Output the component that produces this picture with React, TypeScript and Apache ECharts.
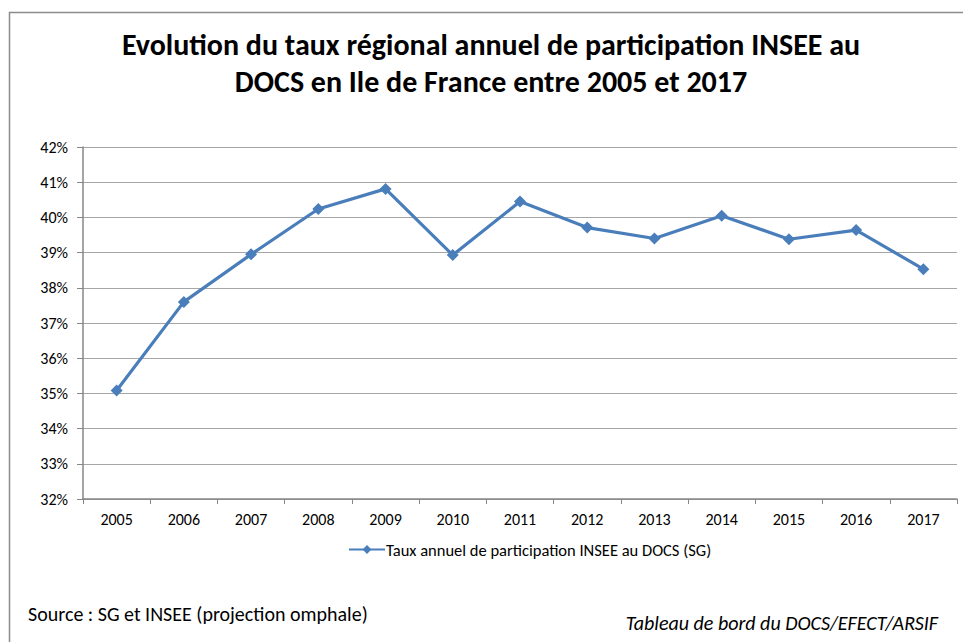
import React, { useEffect, useRef } from "react";
import * as echarts from "echarts";

const years = ["2005","2006","2007","2008","2009","2010","2011","2012","2013","2014","2015","2016","2017"];
const taux = [35.08, 37.6, 38.95, 40.24, 40.81, 38.93, 40.45, 39.71, 39.4, 40.05, 39.38, 39.64, 38.53];
const titleText = "Evolution du taux régional annuel de participation INSEE au\nDOCS en Ile de France entre 2005 et 2017";
const seriesName = "Taux annuel de participation INSEE au DOCS (SG)";
const sourceText = "Source : SG et INSEE (projection omphale)";
const creditText = "Tableau de bord du DOCS/EFECT/ARSIF";

const FONT = "Carlito, Calibri, 'Open Sans', sans-serif";

export default function App() {
  const ref = useRef<HTMLDivElement>(null);
  useEffect(() => {
    document.body.style.margin = "0";
    const chart = echarts.init(ref.current!, null, { renderer: "svg" });
    chart.setOption({
      animation: false,
      backgroundColor: "#ffffff",
      textStyle: { fontFamily: FONT },
      grid: { left: 83, right: 6, top: 147, bottom: 143, containLabel: false },
      xAxis: {
        type: "category",
        data: years,
        boundaryGap: true,
        axisLine: { lineStyle: { color: "#868686", width: 1.5 } },
        axisTick: { show: true, length: 5, lineStyle: { color: "#868686" } },
        axisLabel: { color: "#000", fontSize: 16, margin: 12, fontFamily: FONT },
      },
      yAxis: {
        type: "value",
        min: 32,
        max: 42,
        interval: 1,
        axisLine: { show: true, lineStyle: { color: "#868686", width: 1.5 } },
        axisTick: { show: true, length: 6, lineStyle: { color: "#868686" } },
        axisLabel: { color: "#000", fontSize: 16, margin: 15, formatter: "{value}%", fontFamily: FONT },
        splitLine: { show: true, lineStyle: { color: "#a6a6a6", width: 1.2 } },
      },
      legend: {
        data: [seriesName],
        bottom: 79,
        left: 343,
        itemWidth: 36,
        itemHeight: 11,
        itemGap: 0,
        textStyle: { color: "#000", fontSize: 16.5, fontFamily: FONT, padding: [0, 0, 0, -4] },
      },
      series: [
        {
          name: seriesName,
          type: "line",
          data: taux,
          symbol: "diamond",
          symbolSize: 12,
          itemStyle: { color: "#4a7ebb" },
          lineStyle: { color: "#4a7ebb", width: 3.2 },
        },
      ],
      graphic: [
        {
          type: "polyline",
          shape: { points: [[9.5, 660], [9.5, 12.5], [970, 12.5]] },
          style: { stroke: "#8c8c8c", lineWidth: 1.5, fill: null },
        },
        {
          type: "text",
          x: 491,
          y: 26,
          style: {
            text: titleText,
            textAlign: "center",
            fill: "#000",
            fontSize: 30,
            fontWeight: "bold",
            lineHeight: 37,
            fontFamily: FONT,
          },
        },
        {
          type: "text",
          left: 28,
          top: 604,
          style: { text: sourceText, fill: "#000", fontSize: 20, fontFamily: FONT },
        },
        {
          type: "text",
          right: 25,
          top: 613,
          style: { text: creditText, fill: "#000", fontSize: 20, fontStyle: "italic", fontFamily: FONT },
        },
      ],
    });
    return () => chart.dispose();
  }, []);
  return <div ref={ref} style={{ width: 963, height: 642 }} />;
}
